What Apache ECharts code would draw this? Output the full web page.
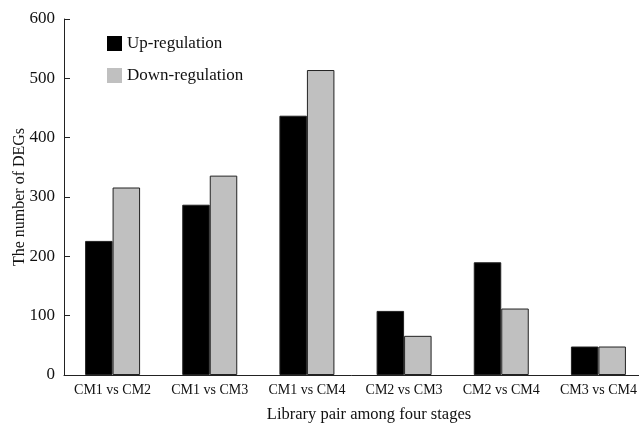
<!DOCTYPE html>
<html>
<head>
<meta charset="utf-8">
<script src="https://cdn.jsdelivr.net/npm/echarts@6/dist/echarts.min.js"></script>
<style>html,body{margin:0;padding:0;background:#fff}#c{width:639px;height:423px}</style>
</head>
<body>
<div id="c"></div>
<script>
var categories = ['CM1 vs CM2', 'CM1 vs CM3', 'CM1 vs CM4', 'CM2 vs CM3', 'CM2 vs CM4', 'CM3 vs CM4'];
var upValues = [226, 287, 437, 108, 190, 48];
var downValues = [316, 336, 514, 66, 112, 48];
var seriesNames = ['Up-regulation', 'Down-regulation'];
var yTicks = [0, 100, 200, 300, 400, 500, 600];

var font = '"Liberation Serif", "Times New Roman", serif';
var chart = echarts.init(document.getElementById('c'));
chart.setOption({
  animation: false,
  backgroundColor: '#fff',
  textStyle: { fontFamily: font, color: '#111' },
  grid: { left: 64, top: 19, bottom: 48, width: 583, containLabel: false, outerBoundsMode: 'none' },
  legend: {
    orient: 'vertical', left: 102, top: 30, itemWidth: 15, itemHeight: 15, itemGap: 15,
    icon: 'rect',
    itemStyle: { borderWidth: 0 },
    textStyle: { fontFamily: font, fontSize: 17, color: '#111' },
    data: seriesNames
  },
  xAxis: {
    type: 'category', data: categories,
    axisLine: { lineStyle: { color: '#222', width: 1 } },
    axisTick: { inside: true, length: 6, lineStyle: { color: '#222' } },
    axisLabel: { fontFamily: font, fontSize: 14, color: '#111', margin: 8, interval: 0 },
    name: 'Library pair among four stages', nameLocation: 'middle', nameGap: 31,
    nameMoveOverlap: false,
    nameTextStyle: { fontFamily: font, fontSize: 16.5, color: '#111', padding: [0, 0, 0, 27] }
  },
  yAxis: {
    type: 'value', min: yTicks[0], max: yTicks[yTicks.length - 1], interval: 100,
    axisLine: { show: true, lineStyle: { color: '#222', width: 1 } },
    axisTick: { show: true, inside: true, length: 6, lineStyle: { color: '#222' } },
    splitLine: { show: false },
    axisLabel: { fontFamily: font, fontSize: 17, color: '#111', margin: 9 },
    name: 'The number of DEGs', nameLocation: 'middle', nameGap: 36, nameRotate: 90,
    nameMoveOverlap: false,
    nameTextStyle: { fontFamily: font, fontSize: 16, color: '#111' }
  },
  series: [
    { name: seriesNames[0], type: 'bar', data: upValues, barWidth: 27.5, barGap: '0%',
      itemStyle: { color: '#000', borderColor: '#222', borderWidth: 1 } },
    { name: seriesNames[1], type: 'bar', data: downValues, barWidth: 27.5,
      itemStyle: { color: '#c0c0c0', borderColor: '#222', borderWidth: 1 } }
  ]
});
</script>
</body>
</html>
